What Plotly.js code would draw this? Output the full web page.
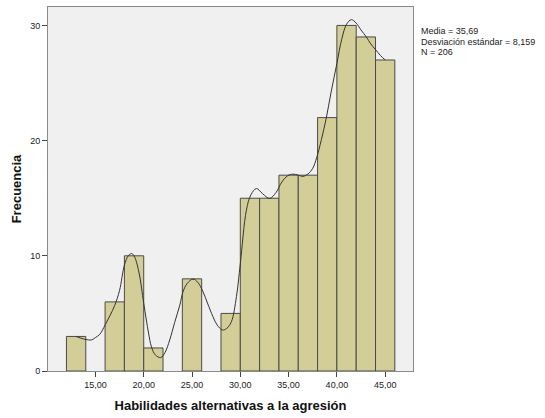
<!DOCTYPE html>
<html>
<head>
<meta charset="utf-8">
<script src="https://cdn.plot.ly/plotly-3.0.1.min.js"></script>
<style>html,body{margin:0;padding:0;background:#fff;}#chart{width:545px;height:418px;}</style>
</head>
<body>
<div id="chart"></div>
<script>
// Histogram bins (left edge, width 2) and frequencies
const binStart = [12,14,16,18,20,22,24,26,28,30,32,34,36,38,40,42,44];
const binWidth = 2;
const counts   = [3,0,6,10,2,0,8,0,5,15,15,17,17,22,30,29,27];

// Smoothed line
const curveX = [13,13.5,14,14.6,15,15.45,16,16.5,17,17.5,18,18.4,18.73,19,19.5,20,20.5,20.8,21.2,21.76,22.2,22.69,23.2,23.73,24.07,24.5,25.1,25.6,26.14,26.6,27.17,27.6,28.15,28.6,29.08,29.6,30,30.63,31.1,31.67,32.3,33.04,33.7,34.3,34.9,35.45,36,36.49,37,37.5,37.9,38.4,38.91,39.4,40,40.5,41,41.5,42,42.5,43.05,43.5,44,44.5,45];
const curveY = [3.0,2.85,2.74,2.7,2.9,3.18,3.99,4.8,5.7,7.0,9.19,10.0,10.2,10.0,8.6,5.87,3.3,2.1,1.4,1.16,1.6,2.69,4.2,5.7,6.88,7.6,7.98,7.7,6.88,5.9,4.71,4.0,3.56,3.7,4.28,6.45,9.3,13.96,15.3,15.84,15.4,14.98,15.5,16.4,16.95,17.09,17.0,16.9,17.1,17.6,18.5,20.1,22.0,24.2,26.7,28.8,30.1,30.5,30.2,29.6,29.0,28.4,27.9,27.4,27.0];

const xTicks = [15,20,25,30,35,40,45];
const yTicks = [0,10,20,30];
const statLines = ["Media = 35,69", "Desviación estándar = 8,159", "N = 206"];

const barX = binStart.map(b => b + binWidth/2);
const barY = counts.map(c => c === 0 ? null : c);

const font = "Liberation Sans, Arial, sans-serif";

const traces = [
  {
    type: "bar",
    x: barX,
    y: barY,
    width: binWidth,
    marker: {color: "#d3ce97", line: {color: "#4a4a4a", width: 1}},
    hoverinfo: "skip"
  },
  {
    type: "scatter",
    mode: "lines",
    x: curveX,
    y: curveY,
    line: {color: "#333333", width: 1, shape: "spline", smoothing: 1},
    hoverinfo: "skip"
  }
];

const statYs = [0.934, 0.905, 0.876];
const annotations = statLines.map((t, i) => ({
  text: t, xref: "paper", yref: "paper", x: 1.016, y: statYs[i],
  xanchor: "left", yanchor: "middle", showarrow: false,
  font: {family: font, size: 9, color: "#222"}
}));

const layout = {
  width: 545, height: 418,
  margin: {l: 48, r: 132, t: 7, b: 47, pad: 0},
  paper_bgcolor: "#ffffff",
  plot_bgcolor: "#f0f0f0",
  showlegend: false,
  bargap: 0,
  separators: ",.",
  font: {family: font, size: 9, color: "#222"},
  xaxis: {
    range: [10.09, 47.88],
    tickvals: xTicks,
    tickformat: ".2f",
    ticks: "outside", ticklen: 5, tickcolor: "#444", tickwidth: 1,
    showgrid: false, zeroline: false,
    showline: true, mirror: true, linecolor: "#8a8a8a", linewidth: 1,
    tickfont: {family: font, size: 9, color: "#222"},
    title: {text: "Habilidades alternativas a la agresión", font: {family: font, size: 13, color: "#111", weight: "bold"}, standoff: 12}
  },
  yaxis: {
    range: [0, 31.6],
    tickvals: yTicks,
    ticks: "outside", ticklen: 5, tickcolor: "#444", tickwidth: 1,
    showgrid: false, zeroline: false,
    showline: true, mirror: true, linecolor: "#8a8a8a", linewidth: 1,
    tickfont: {family: font, size: 9, color: "#222"},
    title: {text: "Frecuencia", font: {family: font, size: 13, color: "#111", weight: "bold"}, standoff: 5}
  },
  annotations: annotations
};

Plotly.newPlot("chart", traces, layout, {staticPlot: true, displayModeBar: false});
</script>
</body>
</html>
